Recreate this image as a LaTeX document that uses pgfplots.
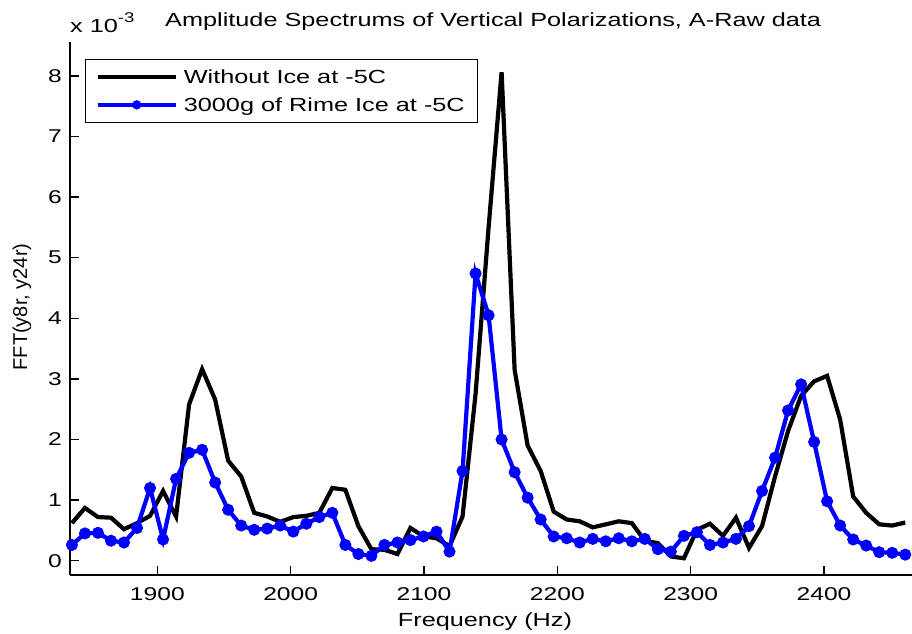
\documentclass[border=0pt]{standalone}
\usepackage{fontspec}
\setmainfont{Liberation Sans}[FakeStretch=1.33]
\newfontfamily\plainfont{Liberation Sans}
\usepackage{pgfplots}
\pgfplotsset{compat=1.18}
\pgfplotstableread{
f v
1835.94 0.62
1845.70 0.87
1855.47 0.72
1865.23 0.71
1875.00 0.52
1884.77 0.62
1894.53 0.74
1904.30 1.15
1914.06 0.73
1923.83 2.58
1933.59 3.16
1943.36 2.66
1953.13 1.65
1962.89 1.39
1972.66 0.79
1982.42 0.73
1992.19 0.64
2001.95 0.72
2011.72 0.74
2021.48 0.79
2031.25 1.20
2041.02 1.17
2050.78 0.57
2060.55 0.19
2070.31 0.18
2080.08 0.11
2089.84 0.54
2099.61 0.40
2109.38 0.37
2119.14 0.24
2128.91 0.73
2138.67 2.75
2148.44 5.50
2158.20 8.06
2167.97 3.15
2177.73 1.90
2187.50 1.48
2197.27 0.81
2207.03 0.68
2216.80 0.65
2226.56 0.55
2236.33 0.60
2246.09 0.65
2255.86 0.62
2265.63 0.33
2275.39 0.29
2285.16 0.07
2294.92 0.04
2304.69 0.51
2314.45 0.61
2324.22 0.41
2333.98 0.71
2343.75 0.21
2353.52 0.57
2363.28 1.39
2373.05 2.14
2382.81 2.72
2392.58 2.96
2402.34 3.05
2412.11 2.33
2421.88 1.06
2431.64 0.79
2441.41 0.60
2451.17 0.58
2460.94 0.63
}\noice
\pgfplotstableread{
f v
1835.94 0.26
1845.70 0.45
1855.47 0.46
1865.23 0.33
1875.00 0.30
1884.77 0.54
1894.53 1.20
1904.30 0.35
1914.06 1.35
1923.83 1.78
1933.59 1.83
1943.36 1.29
1953.13 0.84
1962.89 0.58
1972.66 0.51
1982.42 0.53
1992.19 0.58
2001.95 0.48
2011.72 0.61
2021.48 0.72
2031.25 0.79
2041.02 0.26
2050.78 0.11
2060.55 0.08
2070.31 0.26
2080.08 0.30
2089.84 0.34
2099.61 0.40
2109.38 0.48
2119.14 0.15
2128.91 1.48
2138.67 4.74
2148.44 4.05
2158.20 2.00
2167.97 1.46
2177.73 1.04
2187.50 0.68
2197.27 0.40
2207.03 0.37
2216.80 0.30
2226.56 0.36
2236.33 0.32
2246.09 0.37
2255.86 0.32
2265.63 0.36
2275.39 0.19
2285.16 0.15
2294.92 0.41
2304.69 0.47
2314.45 0.26
2324.22 0.30
2333.98 0.36
2343.75 0.57
2353.52 1.15
2363.28 1.70
2373.05 2.48
2382.81 2.91
2392.58 1.96
2402.34 0.98
2412.11 0.58
2421.88 0.35
2431.64 0.25
2441.41 0.14
2451.17 0.13
2460.94 0.10
}\rime
\begin{document}
\begin{tikzpicture}
\useasboundingbox (-70bp,-59bp) rectangle (842bp,575bp);
\begin{axis}[
  at={(0,0)}, anchor=south west,
  scale only axis, width=842bp, height=533bp,
  xmin=1834.5, xmax=2466, ymin=-0.236, ymax=8.56,
  axis x line*=bottom, axis y line*=left,
  axis line style={line width=1.6bp, -},
  xtick={1900,2000,...,2400}, ytick={0,1,...,8},
  tick align=inside, major tick length=9bp,
  tick style={line width=1.4bp, black},
  /pgf/number format/assume math mode=true,
  /pgf/number format/1000 sep={},
  tick label style={font=\fontsize{18.5bp}{20bp}\selectfont},
  xticklabel style={inner sep=0pt, yshift=-12bp},
  yticklabel style={inner sep=0pt, xshift=-8bp},
  legend cell align=left,
  legend style={at={(0.0178,0.968)}, anchor=north west, draw=black,
    line width=1.3bp, fill=white, font=\fontsize{19bp}{22bp}\selectfont,
    inner xsep=10bp, inner ysep=7.5bp, row sep=8bp, column sep=3bp,
    nodes={inner sep=3bp, text depth=0bp}},
  legend image code/.code={
    \draw[mark repeat=2,mark phase=2,#1, mark size=3.6bp] plot coordinates {(0bp,0bp) (39bp,0bp) (78bp,0bp)};},
]
\addplot[black, line width=4.2bp, mark=none] table[x=f,y=v]{\noice};
\addlegendentry{Without Ice at -5C}
\addplot[blue, line width=4.2bp, mark=*, mark size=5bp, mark options={solid, fill=blue, line width=2bp}] table[x=f,y=v]{\rime};
\addlegendentry{3000g of Rime Ice at -5C}
\end{axis}
\node[anchor=base west, font=\fontsize{19bp}{22bp}\selectfont, inner sep=0pt] at (95bp,548bp) {Amplitude Spectrums of Vertical Polarizations, A-Raw data};
\node[anchor=base west, font=\fontsize{19bp}{22bp}\selectfont, inner sep=0pt] at (0bp,542bp) {x 10\raisebox{0.55em}{\fontsize{14bp}{16bp}\selectfont -3}};
\node[anchor=base, font=\fontsize{19bp}{22bp}\selectfont, inner sep=0pt] at (415bp,-51bp) {Frequency (Hz)};
\node[rotate=90, anchor=center, font=\plainfont\fontsize{20bp}{22bp}\selectfont, inner sep=0pt] at (-48bp,268bp) {FFT(y8r, y24r)};
\end{tikzpicture}
\end{document}
